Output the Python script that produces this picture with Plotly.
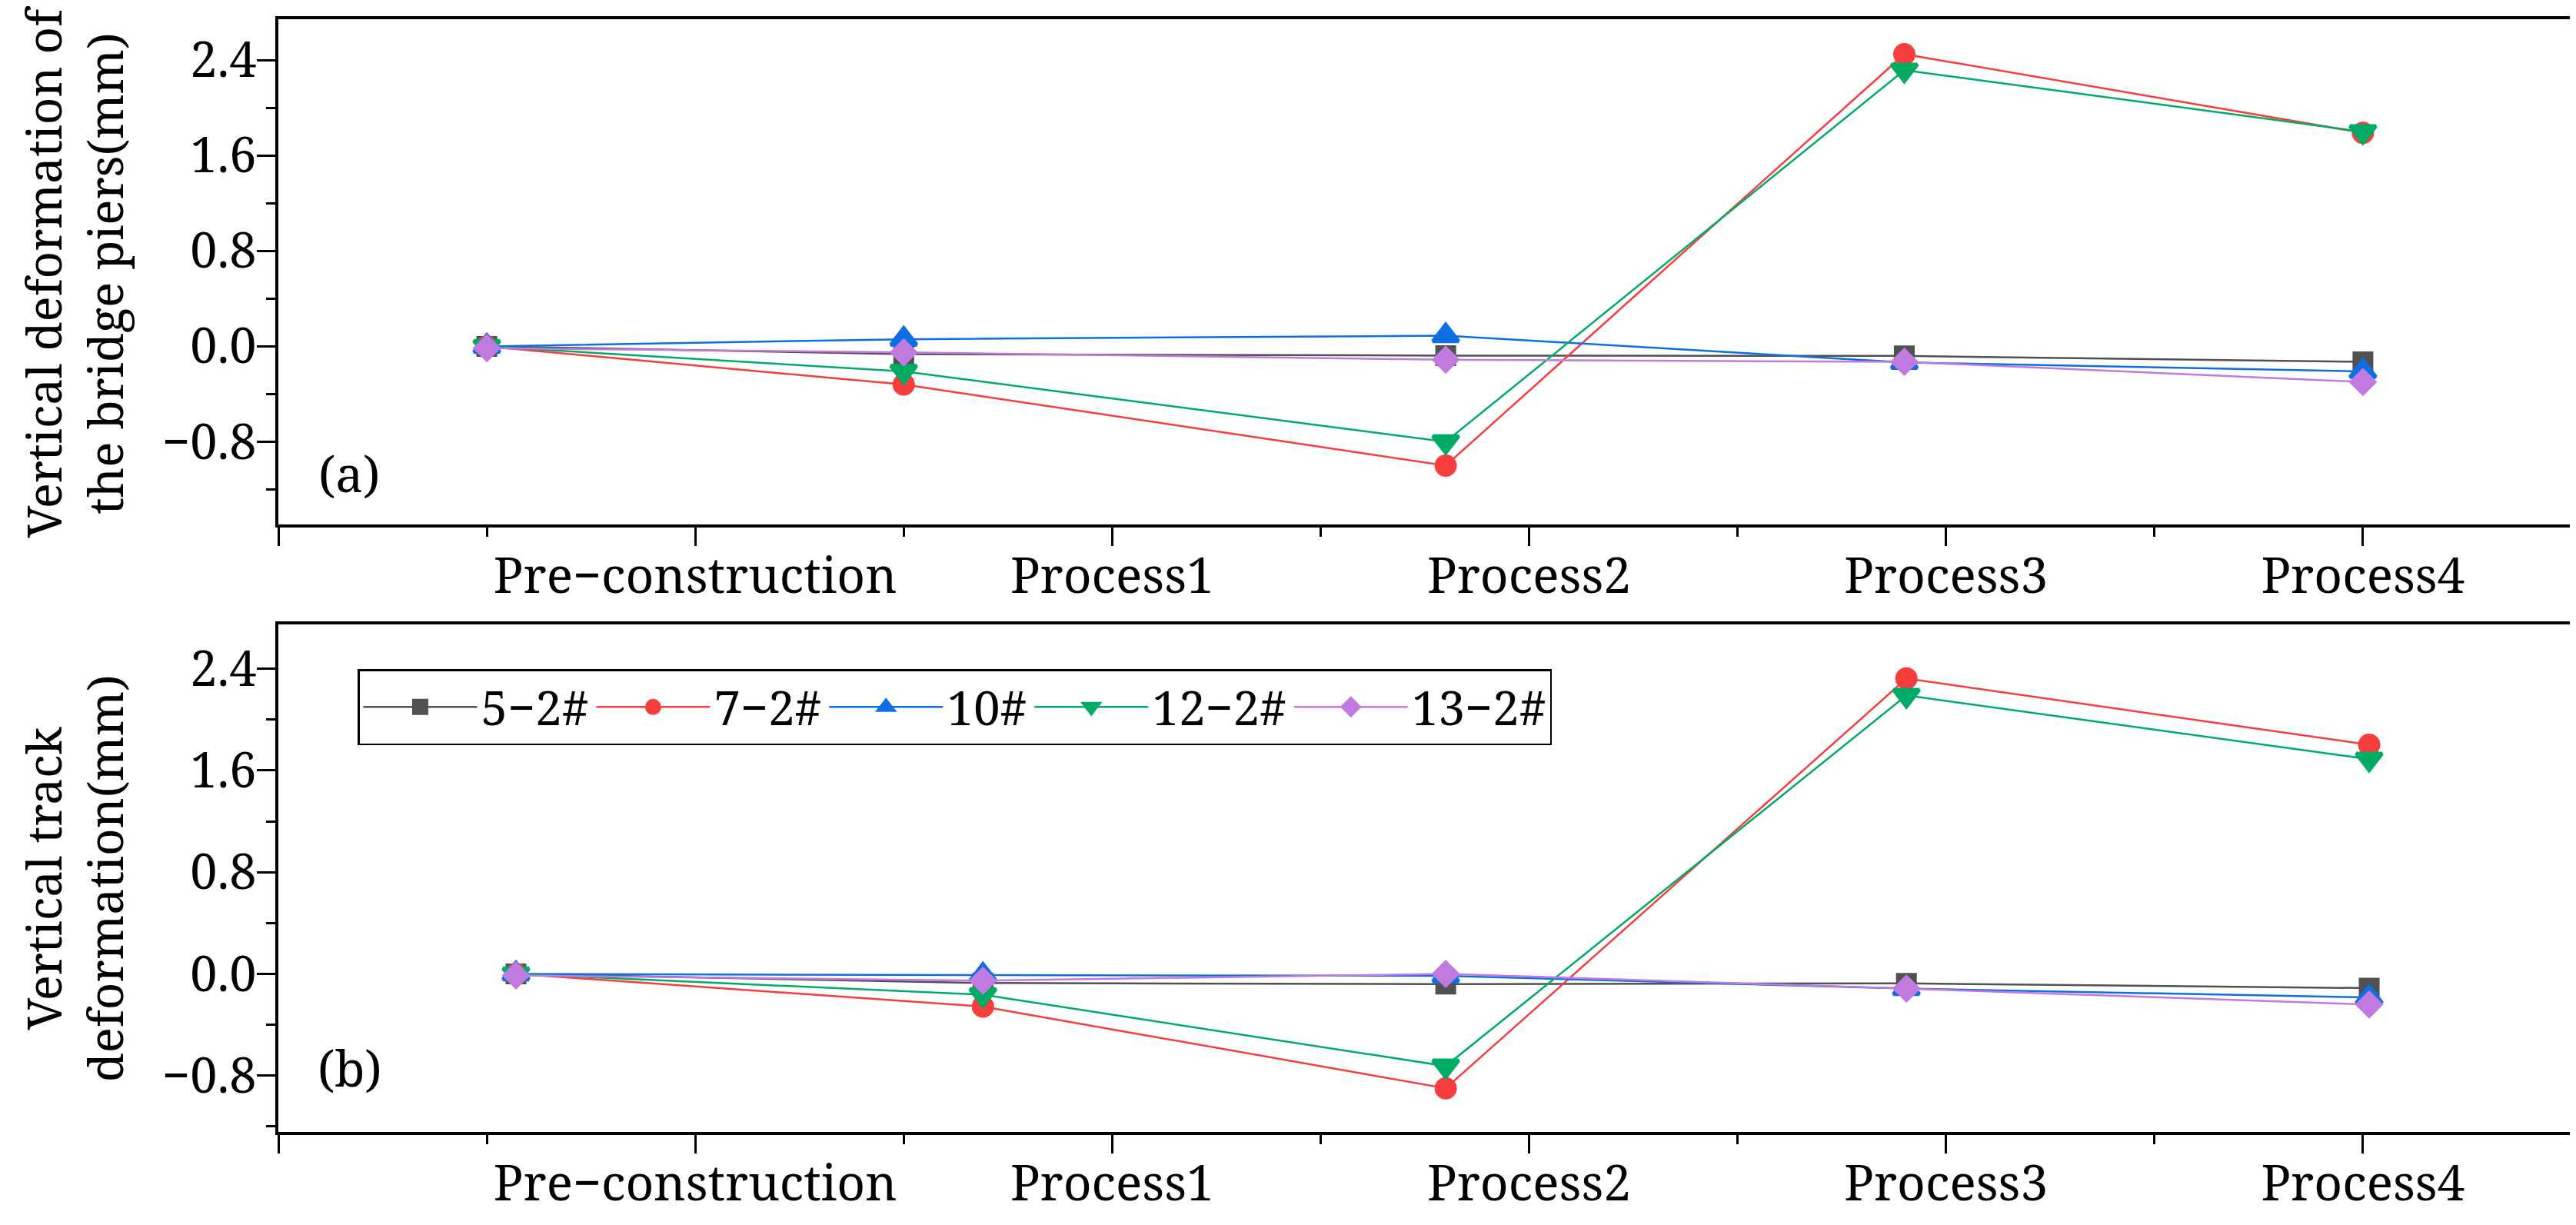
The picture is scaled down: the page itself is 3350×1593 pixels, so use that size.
import plotly.graph_objects as go

# ---------------- data ----------------
stage_labels = ["Pre\u2212construction", "Process1", "Process2", "Process3", "Process4"]
stage_ticks = [1, 2, 3, 4, 5]

series_names = ["5\u22122#", "7\u22122#", "10#", "12\u22122#", "13\u22122#"]

# (a) vertical deformation of the bridge piers (mm)
x_a = [0.5, 1.5, 2.8, 3.9, 5.0]
a_5_2 = [0.0, -0.065, -0.077, -0.08, -0.13]
a_7_2 = [0.0, -0.32, -1.0, 2.45, 1.79]
a_10 = [0.0, 0.06, 0.09, -0.135, -0.21]
a_12_2 = [0.0, -0.21, -0.80, 2.316, 1.80]
a_13_2 = [-0.015, -0.05, -0.112, -0.13, -0.298]

# (b) vertical track deformation (mm)
x_b = [0.57, 1.69, 2.8, 3.905, 5.015]
b_5_2 = [0.0, -0.072, -0.08, -0.075, -0.112]
b_7_2 = [0.0, -0.257, -0.90, 2.323, 1.802]
b_10 = [0.0, -0.01, -0.015, -0.116, -0.185]
b_12_2 = [0.0, -0.164, -0.725, 2.19, 1.689]
b_13_2 = [-0.012, -0.053, 0.0, -0.116, -0.241]

# ---------------- style ----------------
colors = ["#515151", "#F83D3D", "#0D6FE3", "#00AB66", "#C17BE0"]
symbols = ["square", "circle", "triangle-up", "triangle-down", "diamond"]
msizes = [22, 24, 29, 29, 23]
MLW = 5
FONT = "Noto Serif, DejaVu Serif, serif"

W, H = 3350, 1593
x_dom = [354 / W, 3336 / W]
ya_dom = [1 - 674.3 / H, 1 - 16.7 / H]
yb_dom = [1 - 1464.3 / H, 1 - 804.4 / H]

fig = go.Figure()

panel_a = [a_5_2, a_7_2, a_10, a_12_2, a_13_2]
panel_b = [b_5_2, b_7_2, b_10, b_12_2, b_13_2]

for i, ys in enumerate(panel_a):
    fig.add_trace(go.Scatter(
        x=x_a, y=ys, mode="lines+markers", name=series_names[i],
        line=dict(color=colors[i], width=2.5),
        marker=dict(symbol=symbols[i], size=msizes[i], color=colors[i],
                    line=dict(width=MLW, color=colors[i])),
        xaxis="x", yaxis="y", showlegend=False))

for i, ys in enumerate(panel_b):
    fig.add_trace(go.Scatter(
        x=x_b, y=ys, mode="lines+markers", name=series_names[i],
        line=dict(color=colors[i], width=2.5),
        marker=dict(symbol=symbols[i], size=msizes[i], color=colors[i],
                    line=dict(width=MLW, color=colors[i])),
        xaxis="x2", yaxis="y2", showlegend=True))

xaxis_common = dict(
    range=[0, 5.5], domain=x_dom,
    tickmode="array", tickvals=[0] + stage_ticks, ticktext=[""] + stage_labels,
    showline=True, mirror=True, linecolor="black", linewidth=4,
    ticks="outside", ticklen=24, tickwidth=3, tickcolor="black",
    minor=dict(tickmode="linear", tick0=0.5, dtick=1, ticks="outside",
               ticklen=12, tickwidth=3, tickcolor="black"),
    showgrid=False, zeroline=False, ticklabelstandoff=-16,
    tickfont=dict(family=FONT, size=64, color="black"),
)
yaxis_common = dict(
    tickmode="linear", tick0=0, dtick=0.8, tickformat=".1f",
    showline=True, mirror=True, linecolor="black", linewidth=4,
    ticks="outside", ticklen=24, tickwidth=3, tickcolor="black",
    minor=dict(tickmode="linear", tick0=0.4, dtick=0.8, ticks="outside",
               ticklen=12, tickwidth=3, tickcolor="black"),
    showgrid=False, zeroline=False, ticklabelstandoff=-12,
    tickfont=dict(family=FONT, size=63, color="black"),
)

fig.update_layout(
    width=W, height=H, autosize=False,
    margin=dict(l=0, r=0, t=0, b=0),
    paper_bgcolor="white", plot_bgcolor="white",
    font=dict(family=FONT, size=64, color="black"),
    xaxis=dict(**xaxis_common, anchor="y"),
    yaxis=dict(**yaxis_common, domain=ya_dom, range=[-1.495, 2.745], anchor="x"),
    xaxis2=dict(**xaxis_common, anchor="y2"),
    yaxis2=dict(**yaxis_common, domain=yb_dom, range=[-1.245, 2.746], anchor="x2"),
    legend=dict(
        orientation="h", x=457 / W, xanchor="left", y=1 - 862 / H, yanchor="top",
        bordercolor="black", borderwidth=2.5, bgcolor="white",
        font=dict(family=FONT, size=62, color="black"),
        itemwidth=148, tracegroupgap=0, itemsizing="trace",
    ),
    annotations=[
        dict(text="Vertical deformation of<br>the bridge piers(mm)", textangle=-90,
             x=88 / W, y=(ya_dom[0] + ya_dom[1]) / 2, xref="paper", yref="paper",
             xanchor="center", yanchor="middle", showarrow=False,
             font=dict(family=FONT, size=62, color="black")),
        dict(text="Vertical track<br>deformation(mm)", textangle=-90,
             x=88 / W, y=(yb_dom[0] + yb_dom[1]) / 2, xref="paper", yref="paper",
             xanchor="center", yanchor="middle", showarrow=False,
             font=dict(family=FONT, size=62, color="black")),
        dict(text="(a)", x=445.7 / W, y=1 - 607 / H, xref="paper", yref="paper",
             xanchor="center", yanchor="middle", showarrow=False,
             font=dict(family=FONT, size=64, color="black")),
        dict(text="(b)", x=447 / W, y=1 - 1380 / H, xref="paper", yref="paper",
             xanchor="center", yanchor="middle", showarrow=False,
             font=dict(family=FONT, size=64, color="black")),
    ],
)

fig.write_html("out.html")
